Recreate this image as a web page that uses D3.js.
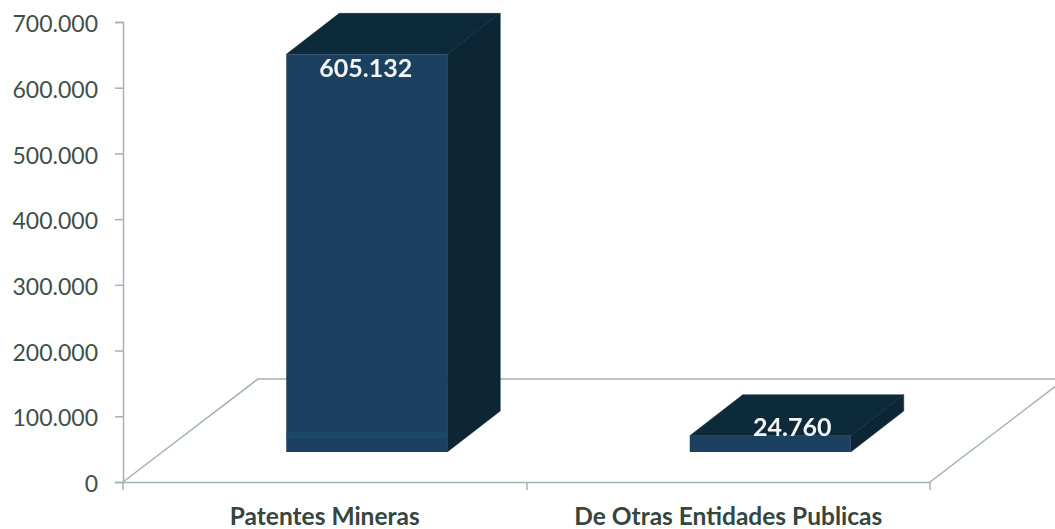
<!DOCTYPE html>
<html><head><meta charset="utf-8">
<script src="https://cdn.jsdelivr.net/npm/d3@7"></script>
<style>html,body{margin:0;padding:0;background:#fff}svg{display:block}text{font-family:Lato,"Open Sans",sans-serif}</style>
</head><body><svg id="c" width="1055" height="529"></svg>
<script>
const categories = ["Patentes Mineras", "De Otras Entidades Publicas"];
const values = [605132, 24760];
const valueLabels = ["605.132", "24.760"];
const tickValues = [0, 100000, 200000, 300000, 400000, 500000, 600000, 700000];
const tickLabels = ["0", "100.000", "200.000", "300.000", "400.000", "500.000", "600.000", "700.000"];

const svg = d3.select("#c");
const y = d3.scaleLinear().domain([0, 700000]).range([482, 22]);
const x = d3.scaleBand().domain(categories).range([123, 930]);
const axisCol = "#a3b1b8", textCol = "#3f4f49";
const floor = {dx: 135, dy: -103};
const barW = 161, shiftX = 42, shiftY = -30, depth = {dx: 53, dy: -41};

// floor outline
const line = d3.line();
svg.append("path").attr("fill", "none").attr("stroke", axisCol).attr("stroke-width", 1.5)
  .attr("d", line([[123, 482], [123 + floor.dx, 482 + floor.dy], [1055, 482 + floor.dy]]));
svg.append("path").attr("fill", "none").attr("stroke", axisCol).attr("stroke-width", 1.5)
  .attr("d", line([[930, 482], [1055, 482 + floor.dy * 125 / floor.dx]]));

// axes
const ay = svg.append("g").attr("transform", "translate(123,0)")
  .call(d3.axisLeft(y).tickValues(tickValues).tickFormat((d, i) => tickLabels[i]).tickSize(8).tickPadding(17));
const ax = svg.append("g").attr("transform", "translate(0,482)")
  .call(d3.axisBottom(x).tickSize(0).tickPadding(26));
ax.selectAll(".tick line").remove();
ax.selectAll(".xt").data([123, 527, 930]).enter().append("line").attr("class", "xt")
  .attr("x1", d => d).attr("x2", d => d).attr("y1", 0).attr("y2", 8);
ax.selectAll(".xt").attr("stroke", axisCol).attr("stroke-width", 1.5);
[ay, ax].forEach(g => {
  g.selectAll(".domain").attr("stroke", axisCol).attr("stroke-width", 1.5);
  g.selectAll(".tick line").attr("stroke", axisCol).attr("stroke-width", 1.5);
});
ay.selectAll("text").attr("font-size", 23).attr("fill", textCol).attr("dy", "0.42em");
ax.selectAll("text").attr("font-size", 24.5).attr("font-weight", 700).attr("fill", "#35463f");

const defs = svg.append("defs");
const f = defs.append("filter").attr("id", "soft").attr("x", "-2%").attr("y", "-2%").attr("width", "104%").attr("height", "104%");
f.append("feGaussianBlur").attr("stdDeviation", 0.5);

// bars
const bars = svg.append("g").attr("filter", "url(#soft)");
const frontCol = "#1a3f60", topCol = "#10293b", sideCol = "#0f2535";
categories.forEach((c, i) => {
  const x0 = x(c) + x.bandwidth() / 2 + shiftX - barW / 2, x1 = x0 + barW;
  const yb = y(0) + shiftY, yt = y(values[i]) + shiftY;
  const poly = pts => pts.map(p => p.join(",")).join(" ");
  bars.append("polygon").attr("fill", sideCol).attr("stroke", sideCol).attr("stroke-width", 0.5)
    .attr("points", poly([[x1, yb], [x1 + depth.dx, yb + depth.dy], [x1 + depth.dx, yt + depth.dy], [x1, yt]]));
  bars.append("polygon").attr("fill", topCol).attr("stroke", topCol).attr("stroke-width", 0.5)
    .attr("points", poly([[x0, yt], [x0 + depth.dx, yt + depth.dy], [x1 + depth.dx, yt + depth.dy], [x1, yt]]));
  bars.append("rect").attr("x", x0).attr("y", yt).attr("width", barW).attr("height", yb - yt).attr("fill", frontCol);
  if (yb - yt > 30) {
    bars.append("rect").attr("x", x0).attr("y", yb - 20).attr("width", barW).attr("height", 6).attr("fill", "#1f4e70").attr("opacity", .7);
  }
});

// value labels
const labelPos = [[-1, 14], [22, -8]];
categories.forEach((c, i) => {
  svg.append("text")
    .attr("x", x(c) + x.bandwidth() / 2 + shiftX + labelPos[i][0])
    .attr("y", y(values[i]) + shiftY + labelPos[i][1])
    .attr("dy", "0.35em").attr("text-anchor", "middle")
    .attr("font-size", 25).attr("font-weight", 700).attr("fill", "#f4f6f6")
    .text(valueLabels[i]);
});
</script></body></html>
